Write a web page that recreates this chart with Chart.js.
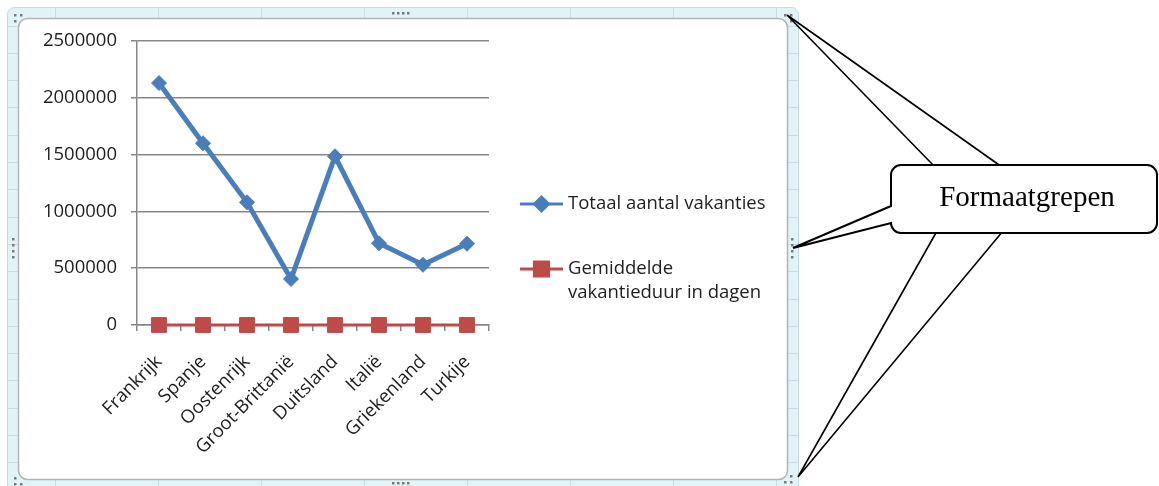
<!DOCTYPE html>
<html>
<head>
<meta charset="utf-8">
<script src="https://cdn.jsdelivr.net/npm/chart.js@4.4.1/dist/chart.umd.min.js"></script>
<style>
  html, body { margin: 0; padding: 0; background: #fff; }
  #wrap { position: relative; width: 1159px; height: 486px; overflow: hidden; }
</style>
</head>
<body>
<div id="wrap"><canvas id="grafiek" width="1159" height="486"></canvas></div>
<script>
// data
const landen = ['Frankrijk', 'Spanje', 'Oostenrijk', 'Groot-Brittanië', 'Duitsland', 'Italië', 'Griekenland', 'Turkije'];
const totaalVakanties = [2130000, 1600000, 1080000, 405000, 1485000, 720000, 530000, 715000];
const gemiddeldeDuur = [15, 13, 10, 9, 11, 14, 15, 16];
const yTicks = [0, 500000, 1000000, 1500000, 2000000, 2500000];
const legendaTeksten = [['Totaal aantal vakanties'], ['Gemiddelde', 'vakantieduur in dagen']];

const blauw = '#4a7ebb';
const rood = '#be4b48';
const grijs = '#878787';
const tekstKleur = '#1e1e1e';

function roundRect(ctx, x, y, w, h, r) {
    ctx.beginPath();
    ctx.moveTo(x + r, y);
    ctx.lineTo(x + w - r, y);
    ctx.arcTo(x + w, y, x + w, y + r, r);
    ctx.lineTo(x + w, y + h - r);
    ctx.arcTo(x + w, y + h, x + w - r, y + h, r);
    ctx.lineTo(x + r, y + h);
    ctx.arcTo(x, y + h, x, y + h - r, r);
    ctx.lineTo(x, y + r);
    ctx.arcTo(x, y, x + r, y, r);
    ctx.closePath();
}

function dots(ctx, list) {
    ctx.fillStyle = '#7a7a7a';
    list.forEach(p => ctx.fillRect(p[0], p[1], 2.5, 2.5));
}

// excel-like selected chart frame behind the chart
const kaderPlugin = {
    id: 'kader',
    beforeDraw(chart) {
        const ctx = chart.ctx;
        ctx.save();
        ctx.fillStyle = '#fff';
        ctx.fillRect(0, 0, chart.width, chart.height);

        roundRect(ctx, 7.5, 7.5, 791, 486, 7);
        ctx.fillStyle = '#e2f3f7';
        ctx.fill();
        ctx.strokeStyle = '#c3dce2';
        ctx.lineWidth = 1;
        ctx.stroke();

        // spreadsheet cells showing through the frame
        ctx.save();
        roundRect(ctx, 8, 8, 790, 485, 7);
        ctx.clip();
        ctx.strokeStyle = '#c6dfe5';
        ctx.beginPath();
        for (let x = 55.5; x < 800; x += 103) { ctx.moveTo(x, 0); ctx.lineTo(x, 486); }
        for (let y = 25.5; y < 486; y += 27.3) { ctx.moveTo(0, Math.round(y) + 0.5); ctx.lineTo(800, Math.round(y) + 0.5); }
        ctx.stroke();
        ctx.restore();

        roundRect(ctx, 18.5, 18.5, 769, 461, 9);
        ctx.fillStyle = '#fff';
        ctx.fill();
        ctx.strokeStyle = '#b4b4b4';
        ctx.lineWidth = 1.5;
        ctx.stroke();

        dots(ctx, [[14, 14], [20, 14], [14, 20],
                   [784, 14], [790, 14], [790, 20],
                   [14, 477], [14, 483], [20, 483],
                   [784, 481], [790, 481], [790, 475],
                   [392, 12], [397, 12], [402, 12], [407, 12],
                   [392, 482], [397, 482], [402, 482], [407, 482],
                   [12, 238], [12, 244], [12, 250], [12, 256],
                   [791, 238], [791, 244], [791, 250], [791, 256]]);
        ctx.restore();
    },
    afterDraw(chart) {
        const ctx = chart.ctx;
        ctx.save();

        // legend on the right side
        const items = chart.data.datasets;
        const posities = [204, 269];
        items.forEach((ds, i) => {
            const y = posities[i];
            ctx.strokeStyle = ds.borderColor;
            ctx.lineWidth = 3;
            ctx.beginPath();
            ctx.moveTo(520, y);
            ctx.lineTo(563, y);
            ctx.stroke();
            Chart.helpers.drawPoint(ctx, {
                pointStyle: ds.pointStyle,
                radius: ds.pointStyle === 'rect' ? 10 : 7,
                borderWidth: 1,
                rotation: 0
            }, 541.5, y);
            ctx.fillStyle = ds.borderColor;
            ctx.fill();
            ctx.fillStyle = tekstKleur;
            ctx.font = '18.5px "Open Sans"';
            ctx.textBaseline = 'middle';
            ctx.textAlign = 'left';
            legendaTeksten[i].forEach((t, j) => ctx.fillText(t, 568, y + j * 24));
        });

        // callout "Formaatgrepen" with its pointers
        ctx.strokeStyle = '#000';
        ctx.lineWidth = 1.6;
        ctx.beginPath();
        ctx.moveTo(787, 15); ctx.lineTo(935, 167);
        ctx.moveTo(787, 15); ctx.lineTo(1002, 167);
        ctx.moveTo(798, 477); ctx.lineTo(937, 231);
        ctx.moveTo(798, 477); ctx.lineTo(1003, 231);
        ctx.stroke();

        const l = 891, t = 165, r = 1157, b = 233, rr = 10;
        ctx.beginPath();
        ctx.moveTo(l + rr, t);
        ctx.lineTo(r - rr, t);
        ctx.arcTo(r, t, r, t + rr, rr);
        ctx.lineTo(r, b - rr);
        ctx.arcTo(r, b, r - rr, b, rr);
        ctx.lineTo(l + rr, b);
        ctx.arcTo(l, b, l, b - rr, rr);
        ctx.lineTo(l, 223);
        ctx.lineTo(793, 248);
        ctx.lineTo(l, 206);
        ctx.lineTo(l, t + rr);
        ctx.arcTo(l, t, l + rr, t, rr);
        ctx.closePath();
        ctx.fillStyle = '#fff';
        ctx.fill();
        ctx.lineWidth = 2;
        ctx.stroke();

        ctx.fillStyle = '#000';
        ctx.font = '29px "Liberation Serif"';
        ctx.textAlign = 'center';
        ctx.textBaseline = 'alphabetic';
        ctx.fillText('Formaatgrepen', 1027, 206);
        ctx.restore();
    }
};

const ctx = document.getElementById('grafiek').getContext('2d');
const grafiek = new Chart(ctx, {
    type: 'line',
    data: {
        labels: landen,
        datasets: [{
            label: 'Totaal aantal vakanties',
            data: totaalVakanties,
            borderColor: blauw,
            backgroundColor: blauw,
            borderWidth: 5,
            pointStyle: 'rectRot',
            pointRadius: 7.5,
            pointBorderWidth: 1,
            tension: 0,
            clip: false,
            fill: false
        },
        {
            label: 'Gemiddelde vakantieduur in dagen',
            data: gemiddeldeDuur,
            borderColor: rood,
            backgroundColor: rood,
            borderWidth: 3,
            pointStyle: 'rect',
            pointRadius: 10.5,
            pointBorderWidth: 1,
            tension: 0,
            clip: false,
            fill: false
        }]
    },
    options: {
        responsive: false,
        animation: false,
        events: [],
        layout: { padding: { left: 20, top: 41, right: 670, bottom: 20 } },
        plugins: {
            legend: { display: false },
            tooltip: { enabled: false }
        },
        scales: {
            x: {
                offset: true,
                afterFit: s => { s.height = 141; },
                border: { color: grijs, width: 1.5 },
                grid: { offset: true, drawOnChartArea: false, drawTicks: true, tickLength: 6, color: grijs, lineWidth: 1.5 },
                ticks: {
                    autoSkip: false,
                    minRotation: 45,
                    maxRotation: 45,
                    padding: 20,
                    color: tekstKleur,
                    font: { family: 'Open Sans', size: 18.5 }
                }
            },
            y: {
                min: 0,
                max: 2500000,
                afterFit: s => { s.width = 117; },
                afterBuildTicks: s => { s.ticks = yTicks.map(v => ({ value: v })); },
                border: { color: grijs, width: 1.5 },
                grid: { color: grijs, lineWidth: 1.5, tickLength: 6 },
                ticks: {
                    padding: 14,
                    color: tekstKleur,
                    font: { family: 'Open Sans', size: 18.5 },
                    callback: v => String(v)
                }
            }
        }
    },
    plugins: [kaderPlugin]
});
</script>
</body>
</html>
